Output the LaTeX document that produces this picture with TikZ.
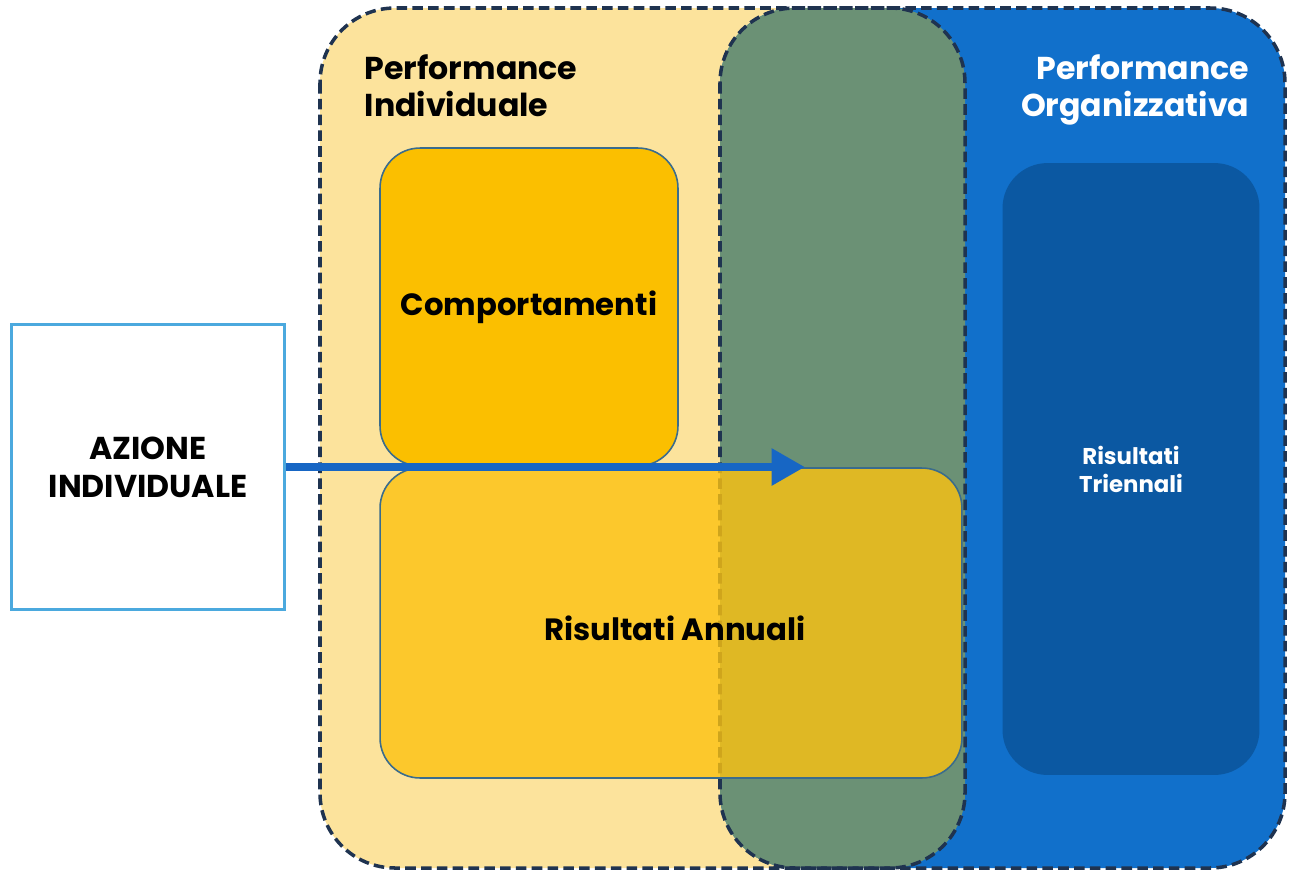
\documentclass[tikz,border=0pt]{standalone}
\usepackage{fontspec}
\setmainfont{Poppins}
\usetikzlibrary{arrows.meta}

\definecolor{paleyellow}{HTML}{FCE39C}
\definecolor{orgblue}{HTML}{1170CB}
\definecolor{darkblue}{HTML}{0B58A2}
\definecolor{mixgreen}{HTML}{6B9175}
\definecolor{navyline}{HTML}{1F3350}
\definecolor{boxline}{HTML}{3A6C8C}
\definecolor{amber}{HTML}{FBBF00}
\definecolor{gold}{HTML}{FCC210}
\definecolor{arrowblue}{HTML}{1766C4}
\definecolor{skyline}{HTML}{4BA9DE}

\begin{document}
\begin{tikzpicture}[x=0.02cm, y=-0.02cm, thick,
    area/.style = {draw=navyline, line width=2pt, dash pattern=on 6pt off 3pt, rounded corners=1.5cm},
    box/.style = {draw=boxline, line width=0.9pt, rounded corners=0.8cm, font=\bfseries\fontsize{17.5}{21}\selectfont},
    title/.style = {font=\bfseries\fontsize{18}{21}\selectfont, inner sep=0pt}]
  \useasboundingbox (0,0) rectangle (1289,873);
  % the two areas and their overlap
  \fill[paleyellow, rounded corners=1.5cm] (320,8) rectangle (965,868);
  \fill[orgblue, rounded corners=1.5cm] (720,8) rectangle (1285,868);
  \begin{scope}
    \clip[rounded corners=1.5cm] (320,8) rectangle (965,868);
    \fill[mixgreen, rounded corners=1.5cm] (720,8) rectangle (1285,868);
  \end{scope}
  \draw[area] (320,8) rectangle (965,868);
  \draw[area] (720,8) rectangle (1285,868);

  \node[title, anchor=north west, align=left, text=black] (indiv) at (364,54) {Performance\\Individuale};
  \node[title, anchor=north east, align=right, text=white] (organ) at (1250,54) {Performance\\Organizzativa};

  \node[box, fill=amber, minimum width=5.96cm, minimum height=6.36cm] (comp) at (529,307) {Comportamenti};
  \node[box, fill=gold, fill opacity=0.8, text opacity=1, minimum width=11.64cm, minimum height=6.2cm] (annuali) at (671,623) {};
  \node[font=\bfseries\fontsize{17.5}{21}\selectfont] (annlabel) at (675,628) {Risultati Annuali};
  \node[fill=darkblue, rounded corners=0.9cm, minimum width=5.14cm, minimum height=12.24cm, align=center, text=white,
        font=\bfseries\fontsize{13}{16}\selectfont] (trien) at (1131,469) {Risultati\\Triennali};

  \node[draw=skyline, line width=1.2pt, fill=white, minimum width=5.46cm, minimum height=5.7cm, align=center,
        font=\bfseries\fontsize{18}{21.5}\selectfont] (azione) at (148,467) {AZIONE\\INDIVIDUALE};

  \coordinate (tip) at (805,467);
  \draw[arrowblue, line width=5pt, -{Triangle[length=19pt,width=20pt]}] (azione.east) -- (tip);
\end{tikzpicture}
\end{document}
